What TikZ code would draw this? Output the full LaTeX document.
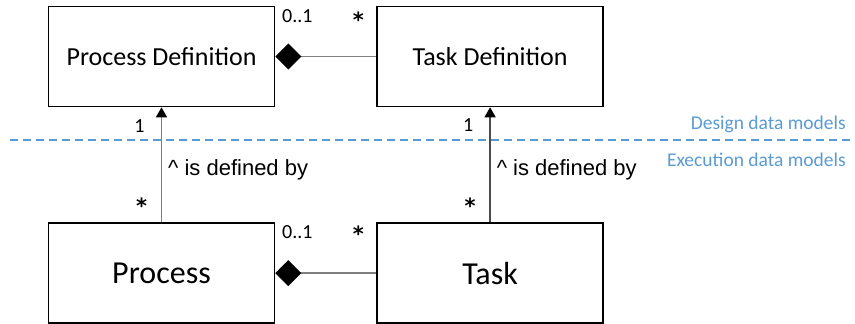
\documentclass[tikz,border=0pt]{standalone}
\usepackage{fontspec}
\setmainfont{Carlito}
\newfontfamily\arialfont{Liberation Sans}
\newfontfamily\starfont{DejaVu Sans}
\usetikzlibrary{arrows.meta,positioning,calc}
\definecolor{zoneblue}{HTML}{5B9BD5}
\definecolor{linkgray}{HTML}{7F7F7F}
\tikzset{defbox/.style={draw=black, rectangle, line width=1.6pt, minimum width=226pt, minimum height=100pt, font=\fontsize{26}{30}\selectfont}}
\tikzset{runbox/.style={defbox, font=\fontsize{32}{38}\selectfont}}
\tikzset{mult/.style={inner sep=0pt, font=\fontsize{20}{24}\selectfont}}
\tikzset{many/.style={inner sep=0pt, font=\starfont\bfseries\fontsize{21}{24}\selectfont}}
\tikzset{zone/.style={inner sep=0pt, text=zoneblue, font=\fontsize{19.5}{24}\selectfont}}
\tikzset{desc/.style={inner sep=0pt, font=\arialfont\fontsize{22}{26}\selectfont}}
\tikzset{compose/.style={draw=linkgray, line width=1.3pt, {Diamond[length=26pt,width=26pt,color=black]}-}}
\tikzset{line/.style={draw=linkgray, line width=1.3pt, -{Triangle[length=10pt,width=11pt,color=black]}}}
\begin{document}
\begin{tikzpicture}[x=1pt, y=-1pt]
		\useasboundingbox (0,0) rectangle (855,324);
		\node [defbox] (pdef) at (161.5,56.5) {Process Definition};
		\node [defbox, right=101pt of pdef] (tdef) {Task Definition};
		\node [runbox, below=115pt of pdef] (proc) {Process};
		\node [runbox, below=115pt of tdef] (task) {Task};
		
		% design / execution border
		\coordinate (sepL) at (10,140);
		\coordinate (sepR) at (855,140);
		\draw [zoneblue, line width=1.3pt, dash pattern=on 8pt off 5pt] (sepL) -- (sepR);
		\node [zone, anchor=east] (design) at ([shift={(-9,-16)}]sepR) {Design data models};
		\node [zone, anchor=east] (execution) at ([shift={(-9,20)}]sepR) {Execution data models};
		
		\path [compose] (pdef.east) -- (tdef.west);
		\path [compose] (proc.east) -- (task.west);
		\path [line] (proc) -- node[desc, right=6pt, yshift=-5pt] {\^{} is defined by} (pdef);
		\path [line, draw=black!70] (task) -- node[desc, right=6pt, yshift=-5pt] {\^{} is defined by} (tdef);
		
		% multiplicities
		\node [mult] (pdef01) at ([shift={(22,10)}]pdef.north east) {0..1};
		\node [many] (tdefn) at ([shift={(-18,14)}]tdef.north west) {*};
		\node [mult] (proc01) at ([shift={(22,10)}]proc.north east) {0..1};
		\node [many] (taskn) at ([shift={(-18,11)}]task.north west) {*};
		\node [mult] (pdef1) at ([shift={(-22,19)}]pdef.south) {1};
		\node [mult] (tdef1) at ([shift={(-22,18)}]tdef.south) {1};
		\node [many] (procn) at ([shift={(-20,-17)}]proc.north) {*};
		\node [many] (taskn2) at ([shift={(-20,-17)}]task.north) {*};
		
\end{tikzpicture}
\end{document}
